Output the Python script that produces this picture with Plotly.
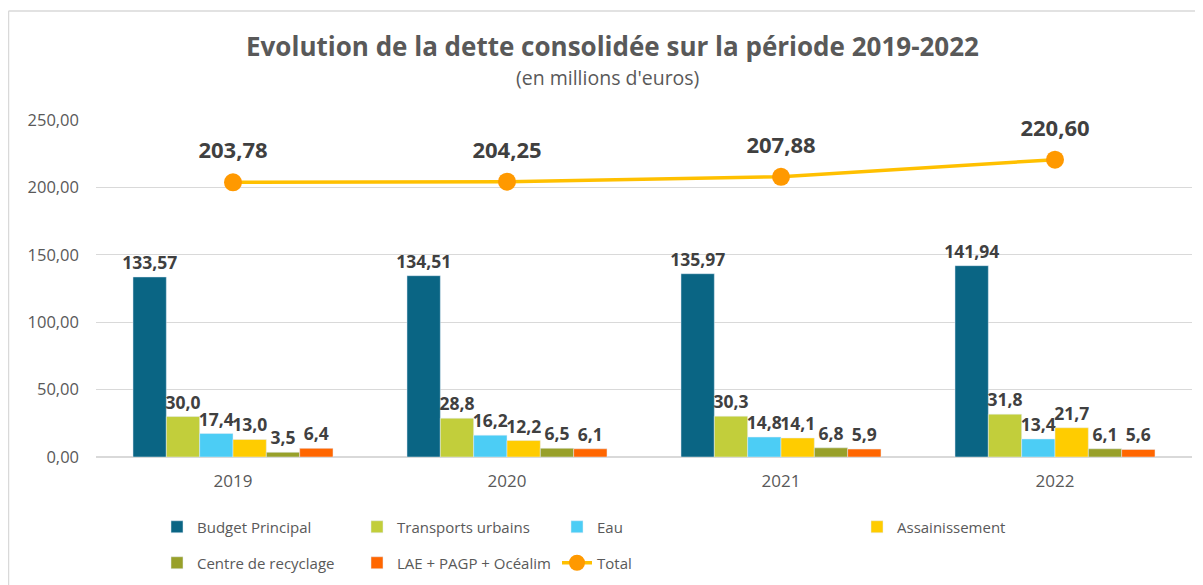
import plotly.graph_objects as go

years = ["2019", "2020", "2021", "2022"]
budget_principal = [133.57, 134.51, 135.97, 141.94]
transports_urbains = [30.0, 28.8, 30.3, 31.8]
eau = [17.4, 16.2, 14.8, 13.4]
assainissement = [13.0, 12.2, 14.1, 21.7]
centre_recyclage = [3.5, 6.5, 6.8, 6.1]
lae_pagp_ocealim = [6.4, 6.1, 5.9, 5.6]
total = [203.78, 204.25, 207.88, 220.60]

FONT = "Open Sans"
GRAY = "#595959"
LABEL = "#404040"

# page body has an 8px margin, so figure coords = screen coords - 8
W, H = 1195, 577
PL, PR, PT, PB = 88, 1184, 112, 449

series = [
    ("Budget Principal", budget_principal, "#0A6584", ".2f", "legend"),
    ("Transports urbains", transports_urbains, "#C2CE3B", ".1f", "legend"),
    ("Eau", eau, "#4CCDF5", ".1f", "legend"),
    ("Assainissement", assainissement, "#FFCC00", ".1f", "legend2"),
    ("Centre de recyclage", centre_recyclage, "#98A02A", ".1f", "legend3"),
    ("LAE + PAGP + Océalim", lae_pagp_ocealim, "#FF6600", ".1f", "legend3"),
]

fig = go.Figure()
for name, vals, col, fmt, lg in series:
    fig.add_trace(go.Bar(
        x=years, y=vals, name=name, marker_color=col,
        texttemplate="%{y:" + fmt + "}", textposition="outside",
        textfont=dict(family=FONT, size=17.5, color=LABEL, weight="bold"),
        constraintext="none", cliponaxis=False, legend=lg,
    ))

fig.add_trace(go.Scatter(
    x=years, y=total, name="Total", mode="lines+markers",
    line=dict(color="#FFC000", width=3.5),
    marker=dict(color="#FF9900", size=18),
    cliponaxis=False, legend="legend3",
))
# labels for the total, with a larger invisible marker to lift them a bit
fig.add_trace(go.Scatter(
    x=years, y=total, name="Total", mode="markers+text", showlegend=False,
    marker=dict(color="rgba(0,0,0,0)", size=28),
    texttemplate="%{y:.2f}", textposition="top center",
    textfont=dict(family=FONT, size=22, color=LABEL, weight="bold"),
    cliponaxis=False, hoverinfo="skip",
))

legend_common = dict(
    orientation="h", xref="container", yref="container",
    xanchor="left", yanchor="middle",
    font=dict(family=FONT, size=15, color=GRAY),
    entrywidth=155, entrywidthmode="pixels",
    bgcolor="rgba(0,0,0,0)", traceorder="normal",
)

def px(x):
    return (x - PL) / (PR - PL)

def py(y):
    return (PB - y) / (PB - PT)

fig.update_layout(
    width=W, height=H,
    margin=dict(l=PL, r=W - PR, t=PT, b=H - PB, autoexpand=False),
    paper_bgcolor="white", plot_bgcolor="white",
    separators=", ",
    barmode="group", bargap=0.27, bargroupgap=0,
    font=dict(family=FONT, color=GRAY),
    title=dict(
        text="<b>Evolution de la dette consolidée sur la période 2019-2022</b>",
        x=604.5 / W, xanchor="center", y=1 - 39 / H, yanchor="middle",
        font=dict(family=FONT, size=26, color=GRAY),
    ),
    xaxis=dict(
        type="category", showgrid=False, zeroline=False, showline=False,
        tickfont=dict(family=FONT, size=17, color=GRAY), ticks="",
        ticklabelstandoff=12,
    ),
    yaxis=dict(
        range=[0, 250], dtick=50, tickformat=".2f",
        gridcolor="#D9D9D9", gridwidth=1, zeroline=True,
        zerolinecolor="#D9D9D9", zerolinewidth=1.5,
        tickfont=dict(family=FONT, size=16.5, color=GRAY),
        ticklabelstandoff=16,
    ),
    showlegend=True,
    legend=dict(legend_common, x=149 / W, y=1 - 519 / H),
    legend2=dict(legend_common, x=849 / W, y=1 - 519 / H),
    legend3=dict(legend_common, x=149 / W, y=1 - 555 / H),
    annotations=[
        dict(text="(en millions d'euros)", xref="paper", yref="paper",
             x=px(599.5), y=py(70), xanchor="center", yanchor="middle",
             showarrow=False, font=dict(family=FONT, size=19.5, color=GRAY)),
    ],
    shapes=[
        dict(type="line", xref="paper", yref="paper",
             x0=px(0.5), x1=px(0.5), y0=py(3), y1=py(600),
             line=dict(color="#D9D9D9", width=1.5)),
        dict(type="line", xref="paper", yref="paper",
             x0=px(0.5), x1=px(1200), y0=py(3), y1=py(3),
             line=dict(color="#D9D9D9", width=1.5)),
    ],
)

fig.write_html("out.html")
